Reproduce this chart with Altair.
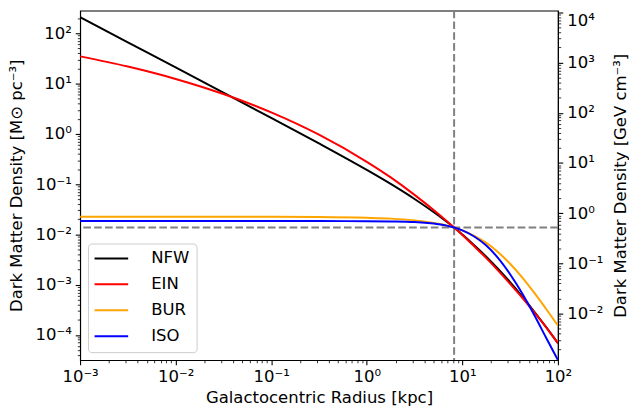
import json
import altair as alt
import pandas as pd

# ---- data ----
radius_kpc = [0.001, 0.00316, 0.01, 0.0316, 0.1, 0.316, 1.0, 1.78, 3.16, 5.62,
              8.2, 10.0, 13.3, 17.8, 23.7, 31.6, 42.2, 56.2, 75.0, 100.0]
rho_nfw = [210, 66.4, 21.0, 6.62, 2.08, 0.646, 0.192, 0.101, 0.0507, 0.0237,
           0.0137, 0.00991, 0.00610, 0.00361, 0.00205, 0.00112, 0.000585, 0.000295, 0.000144, 0.0000682]
rho_ein = [34.9, 21.9, 12.4, 6.21, 2.68, 0.964, 0.278, 0.136, 0.0612, 0.0255,
           0.0137, 0.00975, 0.00579, 0.00337, 0.00190, 0.00104, 0.000555, 0.000286, 0.000143, 0.0000687]
rho_bur = [0.0225, 0.0225, 0.0225, 0.0225, 0.0224, 0.0222, 0.0214, 0.0206, 0.0190, 0.0163,
           0.0137, 0.0120, 0.00935, 0.00676, 0.00442, 0.00260, 0.00140, 0.000700, 0.000331, 0.000153]
rho_iso = [0.0184, 0.0184, 0.0184, 0.0184, 0.0184, 0.0184, 0.0183, 0.0181, 0.0176, 0.0159,
           0.0137, 0.0120, 0.00908, 0.00600, 0.00337, 0.00161, 0.000673, 0.000254, 0.0000889, 0.0000316]

model_names = ["NFW", "EIN", "BUR", "ISO"]
model_colors = ["#000000", "#ff0000", "#ffa500", "#0000ff"]
r_sun_kpc = [8.2]
rho_local = [0.0137]
msun_pc3_to_gev_cm3 = 37.97

x_domain = [1e-3, 1e2]
y_domain = [3.16e-5, 285.0]
y2_domain = [y_domain[0] * msun_pc3_to_gev_cm3, y_domain[1] * msun_pc3_to_gev_cm3]
sup_labels = ["10⁻⁴", "10⁻³", "10⁻²", "10⁻¹", "10⁰", "10¹", "10²", "10³", "10⁴"]


def log_ticks(lo, hi):
    vals = []
    for e in range(-6, 6):
        for m in range(1, 10):
            v = m * 10.0 ** e
            if lo * 0.9999 <= v <= hi * 1.0001:
                vals.append(v)
    return vals


series = {"NFW": rho_nfw, "EIN": rho_ein, "BUR": rho_bur, "ISO": rho_iso}
rows = []
for name in model_names:
    for r, v in zip(radius_kpc, series[name]):
        rows.append({"r": r, "rho": v, "model": name})
df = pd.DataFrame(rows)
df_sun = pd.DataFrame({"r": r_sun_kpc})
df_local = pd.DataFrame({"rho": rho_local})

MAJOR = "abs(log(datum.value)/LN10 - round(log(datum.value)/LN10)) < 0.000001"
LABEL_EXPR = (f"{MAJOR} ? {json.dumps(sup_labels, ensure_ascii=False)}"
              f"[round(log(datum.value)/LN10) + 4] : ''")

W, H = 484, 354
FS = 16.7


def log_axis(values, orient, title, **kw):
    return alt.Axis(
        values=values, orient=orient, title=title, labelExpr=LABEL_EXPR,
        labelOverlap=False, labelFlush=False, grid=False,
        tickSize={"condition": {"test": MAJOR, "value": 4.9}, "value": 2.8},
        tickWidth={"condition": {"test": MAJOR, "value": 1.1}, "value": 0.8},
        labelPadding=4.0, titleBaseline="middle", **kw)


x_enc = alt.X("r:Q", scale=alt.Scale(type="log", domain=x_domain),
              axis=log_axis(log_ticks(*x_domain), "bottom", "Galactocentric Radius [kpc]",
                            titleX=W / 2, titleY=38))
y_enc = alt.Y("rho:Q", scale=alt.Scale(type="log", domain=y_domain),
              axis=log_axis(log_ticks(*y_domain), "left", "Dark Matter Density [M⊙ pc⁻³]",
                            titleX=-64, titleY=H / 2, titleAngle=270))
color_enc = alt.Color(
    "model:N",
    sort=model_names,
    scale=alt.Scale(domain=model_names, range=model_colors),
    legend=alt.Legend(
        title=None, values=model_names, orient="bottom-left", offset=8.3, zindex=0,
        symbolType="M-2.43,0H2.43", symbolSize=196, symbolOffset=8.65,
        symbolStrokeWidth=2, labelOffset=32, labelFontSize=FS,
        labelFont="DejaVu Sans", labelColor="black", rowPadding=8.3,
        padding=6.7, strokeColor="#cccccc", fillColor="rgba(255,255,255,0.8)",
        cornerRadius=3.5),
)

dash = [7.7, 3.3]
vline = alt.Chart(df_sun).mark_rule(color="#808080", strokeWidth=2, strokeDash=dash).encode(x=x_enc)
hline = alt.Chart(df_local).mark_rule(color="#808080", strokeWidth=2, strokeDash=dash).encode(y=y_enc)

curves = (
    alt.Chart(df)
    .mark_line(strokeWidth=2, clip=True, interpolate="monotone")
    .encode(x=x_enc, y=y_enc, color=color_enc)
)

left = alt.layer(vline, hline, curves)

right_axis = log_axis(
    log_ticks(*y2_domain), "right", "Dark Matter Density [GeV cm⁻³]",
    titleX=63, titleY=H / 2, titleAngle=270,
    labelBaseline={"condition": {"test": "datum.value > 5000", "value": "top"}, "value": "middle"},
)

right = (
    alt.Chart(df)
    .transform_filter(alt.datum.model == "NFW")
    .transform_calculate(gev=f"datum.rho * {msun_pc3_to_gev_cm3}")
    .mark_line(opacity=0, clip=True)
    .encode(
        x=x_enc,
        y=alt.Y("gev:Q", scale=alt.Scale(type="log", domain=y2_domain), axis=right_axis),
    )
)

chart = (
    alt.layer(left, right)
    .resolve_scale(y="independent")
    .properties(
        width=W, height=H,
        padding={"left": 73, "top": 0, "right": 72, "bottom": 45},
        autosize=alt.AutoSizeParams(type="none"),
        background="white",
    )
    .configure_view(stroke="black", strokeWidth=1.1)
    .configure_axis(
        labelFont="DejaVu Sans", titleFont="DejaVu Sans", labelFontSize=FS,
        titleFontSize=FS, titleFontWeight="normal", labelColor="black",
        titleColor="black", domainColor="black", domainWidth=1.1, tickColor="black",
    )
)

chart.save("out.html", embed_options={"renderer": "svg", "actions": False})
